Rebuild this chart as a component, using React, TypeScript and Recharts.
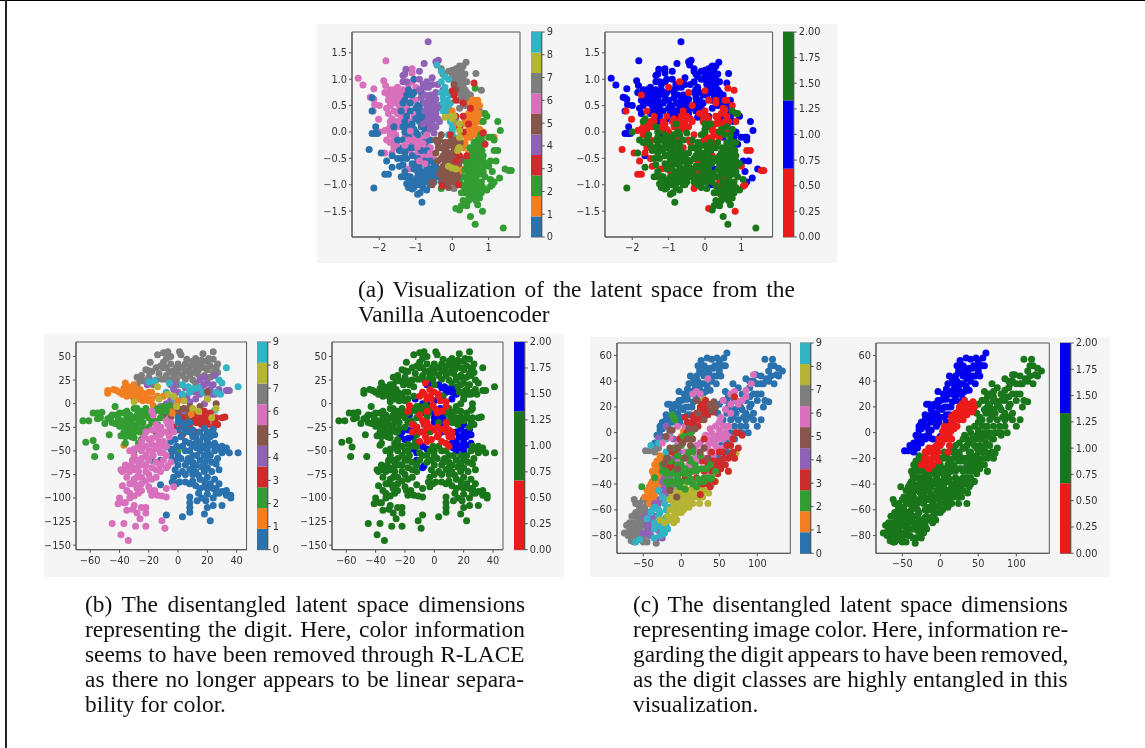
import { ScatterChart, Scatter, XAxis, YAxis, ReferenceArea, BarChart, Bar } from "recharts"

// colour class of a point in the right hand plots
const R = 0, B = 1, G = 2
type Pt = [number, number, number]

const digitColors = ["#2a72ad", "#f27e22", "#339c33", "#cc2c2c", "#8f62b8", "#87564b", "#d970bc", "#7e7e7e", "#b5b434", "#32b4c4"]
const classColors = ["#ed1a1a", "#0000ee", "#1a761a"]
const barA = [classColors[R], classColors[B], classColors[G]]
const barBC = [classColors[R], classColors[G], classColors[B]]
const digitTicks = [0, 1, 2, 3, 4, 5, 6, 7, 8, 9]
const classTicks = [0, 0.25, 0.5, 0.75, 1, 1.25, 1.5, 1.75, 2]

// (a) vanilla autoencoder
const a0: Pt[] = [[-2.2,.65,B],[-2.2,.4,B],[-2.1,.1,B],[-2.2,-.03,B],[-2.12,-.03,B],[-2.05,-.03,B],[-2.28,-.33,R],[-1.95,-.4,R],[-1.8,-.55,R],[-1.65,-.45,B],[-1.85,-.8,R],[-1.75,-.8,R],[-1.65,-.67,G],[-1.45,-.65,R],[-1.4,-.85,G],[-1.3,-.85,G],[-1.3,-.75,G],[-1.5,-.5,R],[-1.25,-.98,G],[-1.2,-1.05,G],[-1.1,-1.08,G],[-2.15,-1.06,G],[-.95,-1.18,G],[-.88,-1.15,G],[-.83,-1.33,G],[-.7,-1.1,G],[-.75,-.95,G],[-.85,-.9,G],[-1,-.9,G],[-1.1,-.95,G],[-.95,-.75,R],[-.8,-.8,G],[-.65,-.8,G],[-.5,-.75,G],[-.4,-.7,G],[-.35,-.85,G],[-.55,-.9,G],[-.7,-.65,G],[-.85,-.6,G],[-.95,-.5,G],[-1.05,-.7,G],[-.6,-.55,G],[-.5,-.6,G],[-1.3,.2,B],[-1.4,.4,B],[-1.3,.6,B],[-1.1,.7,B],[-1.05,1,B],[-1.2,.8,B],[-.9,.45,B],[-.8,.3,B],[-.9,.2,R],[-.7,.1,R],[-1.05,.05,R],[-1.2,-.05,B],[-1.35,-.15,G],[-1.5,-.15,R],[-.95,-.05,R],[-.75,-.2,G],[-1.2,-.3,G],[-1.15,.4,B],[-.8,.55,B],[-1.6,.1,R],[-1.1,-.45,G],[-1.25,-.5,G],[-.85,-.35,G],[-1.05,-1.05,G],[-.75,-.75,G],[-1.1,-.6,G],[-1,-.6,G],[-.9,-.7,G],[-.75,-.55,G],[-.6,-.7,G],[-.45,-.85,G],[-.6,-1,G],[-.9,-1,G],[-1,-1,G],[-1.15,-.85,G],[-1.2,-.95,G],[-.7,-.88,G],[-.5,-.95,G],[-.95,-.85,G],[-1.25,.3,B],[-1.2,.1,R],[-1.3,0,G],[-1.1,.15,R],[-1,.25,B],[-.85,.1,R],[-.75,0,G],[-.95,.5,B],[-.85,.75,B],[-1.05,.75,B],[-1.25,.7,B],[-.9,.35,B],[-1.35,.1,G],[-1.45,-.35,G],[-1.3,-.4,G],[-1.1,-.3,G],[-.7,-.35,G],[-.6,-.15,G],[-1,0,R],[-1.35,-.3,G],[-1.4,-.5,G],[-1.35,-.62,G],[-1.2,-.85,G],[-.85,-.82,G],[-.95,-.95,G],[-.65,-.95,G],[-.8,-1.05,G],[-.6,-.85,G],[-.45,-.65,G],[-1.15,.55,B],[-1.35,.55,B],[-1,.45,B],[-.85,.25,R],[-1.15,-.15,R]]
const a6: Pt[] = [[-2.58,1.02,B],[-2.45,.89,B],[-1.82,1.35,B],[-2.15,.82,B],[-1.88,.97,B],[-1.83,.88,B],[-2.25,.66,B],[-2.15,.62,B],[-2.13,.52,B],[-2.17,.4,R],[-2,.5,B],[-2.02,.24,R],[-1.85,.03,R],[-1.7,.2,G],[-2,0,G],[-1.6,.8,B],[-1.5,.75,B],[-1.4,.7,B],[-1.3,.75,B],[-1.75,.7,R],[-1.65,.6,B],[-1.55,.55,B],[-1.45,.5,B],[-1.6,.4,R],[-1.5,.35,B],[-1.4,.3,R],[-1.65,.25,G],[-1.55,.15,R],[-1.45,.1,R],[-1.75,.05,R],[-1.7,-.05,R],[-1.6,-.15,G],[-1.5,-.25,G],[-1.8,-.15,G],[-1.6,-.3,R],[-1.85,-.4,G],[-1.3,.45,B],[-1.2,.55,B],[-1.1,.6,B],[-1.2,.9,B],[-1.1,1.2,B],[-1.1,1.12,B],[-1.1,.95,B],[-1,.85,R],[-1,.6,B],[-1.15,.2,R],[-1.05,.3,R],[-.95,.35,B],[-1,-.1,G],[-.9,-.15,G],[-.8,-.1,R],[-1.1,-.2,G],[-1,-.3,G],[-.9,-.3,G],[-.8,-.35,G],[-.7,-.25,G],[-.6,-.3,R],[-1.15,-.35,G],[-1.05,-.45,G],[-.55,-.5,G],[-.5,-.52,G],[-1.2,-.7,R],[-.85,-.9,R],[-.7,-.45,G],[-1.7,.8,B],[-1.5,.85,B],[-1.35,.8,B],[-1.7,.5,B],[-1.35,.6,B],[-1.55,.65,B],[-1.75,.35,B],[-1.45,.4,B],[-1.3,.35,B],[-1.6,.05,R],[-1.4,.2,R],[-1.7,-.2,G],[-1.55,-.05,G],[-1.3,-.1,G],[-1.65,-.4,R],[-.95,-.2,G],[-.85,-.05,G],[-.75,-.45,G],[-.65,-.4,G],[-.85,-.45,G],[-1.1,-.05,G],[-.7,-.1,R],[-.95,-.4,G],[-1.8,.45,B],[-1.85,.75,B],[-1.75,.6,B],[-1.6,.7,B],[-1.4,.6,B],[-1.5,.2,R],[-1.55,-.2,G],[-1.3,.15,B],[-1.25,.5,B],[-1.7,.1,R]]
const a6top: Pt[] = [[-.9,-.55,G],[-.7,-.05,G],[-.6,-.4,G],[-.75,-.6,G],[-1.05,-.15,G],[-1.2,-.15,G],[-.95,-.28,G],[-.8,-.22,G],[-1.15,.02,R],[-1.3,-.25,G]]
const a4: Pt[] = [[-.66,1.71,B],[-.45,1.33,B],[-.38,1.36,B],[-.77,1.3,B],[-1.27,1.19,B],[-1.3,1.1,B],[-1.35,1.07,B],[-.9,1.15,B],[-.9,1,B],[-.7,.95,R],[-.55,1.03,B],[-.55,.9,B],[-.75,.85,B],[-1.35,.95,B],[-1.25,.95,B],[-.25,.8,B],[-.45,.75,R],[-.6,.7,B],[-.75,.7,B],[-.5,.55,B],[-.6,.4,R],[-.75,.4,B],[-.45,.35,B],[-.55,.2,R],[-.7,.2,R],[-.45,.1,R],[-.6,.05,R],[-.85,.65,B],[-.9,.8,B],[-.35,.5,R],[-.4,.25,R],[-.5,-.02,G],[-.65,.6,B],[-.75,.55,B],[-.65,.3,R],[-.55,.5,B],[-.5,.7,B],[-.65,.85,B],[-.4,.45,B],[-.5,.3,R],[-.35,.2,R],[-.6,.1,R],[-.8,.9,B],[-.4,.9,B],[-.55,.62,B],[-.8,.15,G],[-.5,.4,B],[-.45,.62,B],[-.7,.5,B]]
const a9: Pt[] = [[-.42,1.27,B],[-.3,1.15,B],[-.2,1.05,B],[-.1,1,B],[-.3,.95,B],[-.2,.85,B],[-.3,.75,B],[-.25,.65,B],[-.15,.6,B],[-.2,.5,B],[-.05,.7,B],[-.1,.45,B],[-.25,.4,B],[0,.05,G],[-.05,.2,R],[.05,-.1,R],[-.1,-.05,G],[0,.15,G],[-.2,-.3,B],[.1,.25,R],[-.15,.75,B],[-.25,.55,B],[-.05,.55,B],[-.15,.35,R],[0,0,G],[.05,.1,G]]
const a7: Pt[] = [[.38,1.32,B],[.65,1.11,B],[.8,.79,R],[.3,1.25,B],[.2,1.25,B],[.1,1.2,B],[0,1.17,B],[-.3,1.2,B],[-.25,1.1,B],[.05,1.05,B],[.15,1.1,B],[.25,1.1,B],[.3,1,B],[.15,.95,B],[.25,.9,B],[.35,.8,B],[.2,.8,B],[.3,.7,B],[.4,.75,B],[.5,.7,B],[.2,.6,B],[.45,.55,B],[.35,.5,B],[.75,.4,G],[.85,.35,G],[.2,.45,B],[.05,-1.07,G],[.05,.95,B],[.1,.85,B],[.4,.95,B],[.3,.6,R],[.1,1.1,B],[.2,1,B],[.3,.85,B],[.15,.75,B],[.1,.95,B],[.25,.65,B],[.4,.62,B],[0,1.1,B],[.35,1.1,B],[.25,1.2,B],[-.1,1.15,B],[.12,.88,B]]
const a2: Pt[] = [[1.4,-1.82,G],[.63,-1.75,G],[.5,-1.6,G],[.83,-1.5,R],[.2,-1.48,G],[.1,-1.45,R],[.25,-1.4,G],[.4,-1.4,G],[.3,-1.3,G],[.45,-1.3,G],[.55,-1.25,G],[.7,-1.38,G],[.75,-1.25,G],[.6,-1.15,G],[.8,-1.15,G],[.95,-1.1,G],[.35,-1.15,R],[.25,-1.15,G],[.5,-1.05,G],[.4,-.95,R],[.55,-.95,G],[.7,-.95,G],[.3,-.85,G],[.45,-.8,G],[.6,-.8,G],[.75,-.8,G],[.85,-.75,G],[.4,-.65,G],[.55,-.65,G],[.7,-.65,G],[.85,-.55,G],[.5,-.5,G],[.65,-.5,G],[.8,-.45,G],[.6,-.35,G],[.75,-.3,G],[.85,-.2,G],[.7,-.15,G],[.8,-.1,B],[1.05,-.55,B],[1,-.65,R],[1.1,-.75,B],[1.2,-.55,B],[1.15,-.35,R],[1.25,-.35,R],[1.05,-.9,G],[1.1,-1,R],[1.05,-1.03,R],[1.15,-.95,B],[1.3,-.87,B],[1.45,-.7,B],[1.55,-.73,R],[1.62,-.73,R],[1.25,.2,B],[1.32,.03,B],[.9,.35,G],[.95,.3,B],[.85,.2,R],[1,-.1,B],[1.1,-.1,B],[1.15,-.15,B],[.63,.83,R],[.78,-.05,B],[-.3,-1.07,R],[.45,-1.15,G],[.65,-1.3,G],[.35,-.55,G],[.6,-1,G],[.5,-.85,R],[.35,-1.05,G],[.5,-.95,G],[.65,-.88,G],[.8,-.95,G],[.45,-.72,G],[.6,-.72,G],[.72,-.72,G],[.85,-.65,G],[.5,-.58,G],[.62,-.58,G],[.75,-.55,G],[.55,-.42,G],[.68,-.42,G],[.82,-.35,G],[.65,-.25,G],[.75,-.18,G],[.45,-1.2,G],[.3,-1.02,G],[.65,-1.2,G],[.9,-.85,G],[.95,-.6,G],[.4,-.5,G],[.55,-1.1,G],[.7,-1.05,G],[.85,-1.05,G],[.2,-.95,G],[.4,-1.1,G],[.75,-1.1,G],[.35,-.72,G],[.4,-.85,G],[.65,-.65,G],[.8,-.62,G],[.55,-.32,G],[.72,-.38,G],[.85,-.45,G],[.48,-.3,G],[.6,-.2,G]]
const a1: Pt[] = [[.7,.6,B],[.75,.5,R],[.65,.5,B],[.55,.6,R],[.45,.35,R],[.5,.25,B],[.6,.3,R],[.7,.25,B],[.8,.2,B],[.5,.1,R],[.6,.1,G],[.75,.05,G],[.85,0,B],[.4,0,G],[.5,-.1,B],[.35,-.2,G],[.3,-.3,G],[.45,-.4,G],[.25,-.05,R],[1.15,-.1,B],[.25,-.7,B],[.2,-.78,G],[.3,.15,R],[0,.4,R],[.05,.3,R],[.15,.15,G],[.6,.6,R],[.55,.42,R],[.65,.4,B],[.75,.35,B],[.55,.2,R],[.65,.18,B],[.45,.05,G],[.6,0,R],[.7,-.05,G],[.55,-.05,G],[.4,-.1,R],[.35,.25,R],[.65,.2,R],[.55,.12,R],[.45,.22,B],[.6,.45,B],[.5,.55,B]]
const a3: Pt[] = [[.6,.93,B],[0,.78,R],[.05,.7,B],[.1,.6,R],[.3,.55,R],[.5,.45,R],[.3,.3,R],[.45,.15,R],[.2,.1,R],[.3,0,R],[.9,-.23,B],[.85,-.02,B],[.4,-.45,G],[.2,-.45,R],[.15,-.4,B],[.1,-.55,G],[-.28,-1.03,R],[.17,-1,B],[-.05,-.05,R],[.1,.3,B]]
const a5: Pt[] = [[-.35,-.15,G],[-.4,-.2,R],[-.3,-.05,R],[-.2,-.2,G],[-.1,-.2,R],[0,-.25,G],[-.1,-.4,G],[-.3,-.5,G],[-.2,-.55,R],[-.15,-.65,G],[-.3,-.7,G],[-.2,-.75,R],[-.05,-.6,G],[0,-.5,G],[-.25,-.85,G],[-.15,-.9,G],[-.05,-.85,G],[-.3,-.95,G],[-.2,-1,G],[-.1,-1.05,G],[-.55,-.95,G],[-.55,-1,G],[-.1,-.8,G],[.05,.9,B],[.1,.8,B],[-.2,-.35,G],[-.25,-.65,G],[-.1,-.7,G],[-.2,-.9,G],[-.05,-.95,G],[-.3,-.3,G],[-.12,-.5,G],[-.25,-.45,G],[-.35,-.8,G],[0,-.75,G],[-.15,-.28,G],[.05,-.55,G],[.1,-.9,G],[.12,-.8,G],[.05,-.95,G],[0,-.9,G],[.1,-.65,G],[.18,-.6,G],[.15,-.85,G],[.02,-.4,G],[.1,-.42,G],[.05,-.3,G],[-.02,-.15,R],[.1,-.15,R],[.15,-.2,G],[.2,-.55,G],[.25,-.5,G],[.22,-.2,R],[-.45,-.4,G],[-.4,-.55,G],[-.38,-.3,G],[-.45,-.15,R]]
const a8: Pt[] = [[-.2,.28,B],[-.05,.3,R],[0,.25,R],[.2,.15,R],[.2,.03,R],[.18,-.3,G],[.15,-.35,G],[.2,-.3,R],[-.1,-.65,G],[0,-.68,G],[.1,-.7,G],[.05,.3,R],[.2,-.1,R]]

// (b) digit dimensions
const b7: Pt[] = [[-14,52,G],[-10,54,G],[-7,55,G],[-5,50,G],[-8,48,G],[1,55,G],[2,52,G],[17,53,G],[24,55,G],[-19,44,G],[12,48,G],[15,42,G],[20,45,G],[22,40,G],[27,42,G],[-8,38,G],[-3,35,G],[3,38,G],[8,40,G],[12,38,G],[18,38,G],[25,35,G],[-13,32,G],[-8,30,G],[-3,30,G],[3,30,G],[8,30,G],[13,32,G],[18,30,G],[-25,30,G],[-20,28,G],[-15,25,G],[-28,20,G],[-5,25,G],[10,25,G],[22,28,G],[5,35,G],[-28,28,G],[-10,38,G],[0,42,G],[16,46,G],[24,47,G],[-18,34,G],[-12,40,G],[-5,42,G],[5,42,G],[10,45,G],[7,34,G],[14,36,G],[20,36,G],[24,32,G],[-1,38,G],[-6,34,G],[-11,26,G],[-20,35,G],[-23,24,G],[-17,20,G],[-1,26,G],[5,26,G],[15,28,G],[27,33,G],[21,48,G],[17,45,G],[10,33,G],[0,33,G],[-15,38,G],[-22,36,G],[-10,44,G],[6,47,G],[12,42,G],[26,38,G],[-8,26,G],[0,20,G],[12,22,G],[-26,24,G]]
const b4: Pt[] = [[-21,20,G],[-18,24,G],[-5,20,B],[5,17,B],[10,15,B],[15,25,G],[18,28,G],[20,22,G],[22,15,G],[20,10,G],[15,10,B],[25,10,G],[28,15,G],[33,14,G],[35,14,G],[20,5,G],[18,0,G],[12,5,B],[3,8,R],[-3,15,R],[25,30,G],[18,20,G],[-5,5,R],[-8,0,B],[-12,-3,G],[-4,-2,B],[2,-10,R],[5,-8,R],[8,2,R],[6,8,G],[0,12,R],[-3,20,B],[12,12,B],[16,18,G],[24,20,G],[23,10,G]]
const b9: Pt[] = [[33,38,G],[41,18,G],[30,22,G],[28,25,G],[29,10,G],[26,12,G],[25,-7,G],[-20,23,G],[-6,22,R],[3,20,B],[7,18,B],[11,16,B],[14,17,B],[17,12,G],[8,12,B],[3,10,R],[-2,5,R],[-8,12,R],[-16,24,G]]
const b8: Pt[] = [[-14,18,G],[-30,2,G],[-13,5,B],[-7,10,R],[-3,8,R],[-1,-3,G],[23,-15,G],[10,-5,G],[14,-8,G],[20,5,G],[26,-5,G],[4,3,R]]
const b1: Pt[] = [[-48,14,G],[-48,11,G],[-44,15,G],[-40,12,G],[-37,16,G],[-36,22,G],[-34,18,G],[-36,13,G],[-33,9,G],[-30,15,G],[-27,8,G],[-24,11,G],[-20,12,G],[-18,5,G],[-24,3,G],[-27,5,G],[-17,-2,R],[-14,8,G],[-10,8,R],[-5,-8,R],[-7,-5,B],[0,3,B],[-1,-2,R],[9,-11,G],[-18,12,G],[-37,-44,G],[-4,-10,G],[-42,14,G],[-38,10,G],[-33,14,G],[-30,9,G],[-28,13,G],[-25,7,G],[-22,8,G],[-20,3,G],[-30,20,G],[-35,8,G],[-26,15,G]]
const b2: Pt[] = [[-65,-18,G],[-61,-18,G],[-58,-10,G],[-55,-10,G],[-52,-9,G],[-53,-15,G],[-50,-21,G],[-46,-14,G],[-43,-21,G],[-39,-18,G],[-35,-15,G],[-43,-3,G],[-47,-33,G],[-63,-41,G],[-58,-39,G],[-56,-46,G],[-57,-56,G],[-46,-56,G],[-39,-34,G],[-37,-30,G],[-36,-42,G],[-34,-25,G],[-32,-35,G],[-30,-15,G],[-28,-22,G],[-26,-30,G],[-24,-13,G],[-20,-25,G],[-18,-10,G],[-14,-5,G],[-10,-3,G],[-8,-8,G],[-12,-15,G],[-16,-18,G],[-22,-5,G],[-30,-5,G],[-35,-8,G],[-25,-8,G],[-30,-30,G],[-27,-42,G],[-30,-50,G],[-31,-60,G],[-20,-15,G],[-40,-10,G],[0,-50,G],[-45,-12,G],[-42,-12,G],[-28,-12,G],[-14,-22,G],[-25,-38,G],[-38,-24,G],[-32,-18,G],[-55,-16,G],[-48,-16,G],[-45,-20,G],[-41,-15,G],[-37,-10,G],[-33,-20,G],[-30,-24,G],[-27,-17,G],[-24,-20,G],[-22,-11,G],[-20,-9,G],[-16,-8,G],[-12,-8,G],[-36,-20,G],[-40,-24,G],[-33,-30,G],[-30,-36,G],[-36,-35,G],[-28,-28,G],[-24,-26,G],[-18,-20,G],[-33,-12,G],[-28,-5,G],[-25,-14,G],[-6,-2,G]]
const b3: Pt[] = [[-25,-30,G],[12,-15,G],[10,-8,G],[15,-15,G],[20,-18,G],[25,-20,G],[30,-15,G],[22,-10,G],[18,-8,G],[26,-15,G],[32,-14,G],[3,-15,B],[-3,-25,R],[3,-33,R],[8,-25,R],[12,-20,G],[24,-25,G],[20,-22,B],[16,-22,G],[14,-20,G],[18,-14,G],[22,-15,G],[27,-22,G],[17,-18,G],[10,-18,G]]
const b5: Pt[] = [[-30,5,G],[-3,-5,G],[1,-6,R],[4,-5,B],[8,-8,G],[12,-10,G],[15,-3,G],[-9,-10,B],[26,0,G],[20,13,G],[-8,-5,B],[5,-20,B],[2,-25,R],[-10,-12,R],[-5,-14,G],[0,-10,B],[6,-14,B],[8,-3,R],[-12,-25,B],[-7,-30,R],[12,-30,R],[5,-27,R],[-15,-30,R]]
const b0: Pt[] = [[0,-15,B],[3,-20,G],[8,-30,R],[5,-40,R],[10,-35,R],[15,-30,B],[20,-30,B],[25,-33,B],[20,-40,B],[15,-40,B],[10,-45,R],[5,-50,G],[0,-55,G],[-5,-55,G],[10,-55,G],[15,-50,B],[20,-50,B],[25,-50,G],[28,-48,G],[30,-45,G],[33,-47,G],[35,-52,G],[41,-52,G],[27,-58,G],[26,-64,G],[20,-60,G],[15,-60,G],[10,-62,G],[5,-65,G],[0,-65,G],[-2,-70,G],[8,-70,G],[12,-72,G],[18,-72,G],[20,-78,G],[22,-85,G],[15,-80,G],[10,-82,G],[8,-85,G],[5,-83,G],[1,-83,G],[-1,-85,G],[-4,-83,G],[-12,-86,G],[20,-90,G],[26,-90,G],[30,-93,G],[33,-92,G],[36,-97,G],[36,-100,G],[26,-95,G],[30,-108,G],[24,-108,G],[19,-103,G],[13,-103,G],[8,-99,G],[8,-105,G],[8,-110,G],[8,-115,G],[20,-110,G],[18,-117,G],[22,-124,G],[3,-120,G],[-8,-118,G],[28,-85,G],[15,-90,G],[-8,-45,B],[-12,-60,B],[-23,-65,G],[-18,-60,G],[-5,-40,R],[0,-28,R],[5,-30,B],[18,-45,B],[22,-35,B],[13,-47,B],[18,-26,B],[24,-27,B],[5,-25,B],[8,-20,R],[10,-28,R],[12,-35,R],[8,-42,R],[3,-45,G],[8,-50,G],[13,-55,G],[18,-55,G],[22,-55,G],[12,-42,B],[25,-42,B],[20,-35,B],[17,-35,B],[22,-44,B],[16,-47,B],[22,-30,B],[2,-58,G],[7,-58,G],[-2,-60,G],[3,-72,G],[6,-62,G],[12,-65,G],[16,-67,G],[20,-68,G],[14,-76,G],[18,-82,G],[12,-87,G],[18,-88,G],[25,-80,G],[14,-95,G],[20,-96,G],[28,-95,G],[33,-97,G],[-3,-50,G],[-5,-48,B],[-2,-38,R],[2,-35,R],[0,-20,B],[-1,-45,G],[10,-68,G],[5,-75,G],[0,-75,G],[10,-75,G],[23,-62,G],[23,-72,G],[28,-70,G],[18,-63,G],[-3,-78,G],[30,-52,G],[26,-45,G],[31,-50,G],[16,-100,G],[24,-100,G],[24,-90,G]]
const b6: Pt[] = [[-45,-127,G],[-37,-127,G],[-39,-139,G],[-34,-145,G],[-29,-130,G],[-22,-130,G],[-11,-124,G],[-9,-132,G],[-22,-116,G],[-26,-122,G],[-28,-116,G],[-31,-112,G],[-35,-113,G],[-37,-105,G],[-41,-106,G],[-40,-100,G],[-33,-100,G],[-38,-87,G],[-35,-92,G],[-30,-98,G],[-28,-90,G],[-25,-92,G],[-19,-92,G],[-18,-97,G],[-14,-97,G],[-11,-98,G],[-8,-90,G],[-8,-99,G],[-3,-88,G],[-39,-70,G],[-38,-72,G],[-36,-65,G],[-31,-60,G],[-30,-70,G],[-35,-78,G],[-30,-80,G],[-25,-78,G],[-20,-75,G],[-15,-70,G],[-8,-68,B],[-5,-62,G],[-7,-66,B],[-28,-60,G],[-25,-65,G],[-20,-60,G],[-15,-62,G],[-10,-60,G],[-25,-50,G],[-20,-50,G],[-15,-48,B],[-12,-52,B],[-30,-48,G],[-33,-50,G],[-25,-40,G],[-20,-38,B],[-15,-35,B],[-10,-40,R],[-18,-28,B],[-12,-25,R],[-8,-30,B],[-5,-25,R],[-8,-18,R],[-5,-20,R],[-3,-30,G],[-22,-30,B],[-20,-58,G],[-27,-72,G],[-33,-85,G],[-15,-45,G],[-25,-85,G],[-18,-8,R],[-17,-12,B],[-28,-68,G],[-33,-72,G],[-28,-78,G],[-22,-72,G],[-22,-82,G],[-18,-68,G],[-12,-65,G],[-32,-65,G],[-25,-58,G],[-22,-55,G],[-17,-55,G],[-12,-45,G],[-27,-46,G],[-22,-45,G],[-18,-43,G],[-23,-35,B],[-13,-40,G],[-8,-45,B],[-10,-30,R],[-14,-28,B],[-7,-22,R],[-15,-22,R],[-6,-35,R],[-12,-33,G],[-33,-95,G],[-27,-95,G],[-36,-105,G],[-30,-108,G],[-22,-110,G],[-25,-110,G],[-32,-85,G],[-29,-86,G],[-16,-92,G],[-20,-88,G],[-22,-65,G],[-10,-52,G],[-18,-37,B],[-35,-70,G],[-27,-62,G],[-18,-80,G],[-15,-78,G],[-12,-72,G],[-30,-55,G],[-25,-45,G],[-18,-50,G],[-8,-55,G]]

// (c) colour dimensions
const c0: Pt[] = [[60,62,B],[56,58,B],[52,52,B],[47,58,B],[40,57,B],[34,58,B],[26,56,B],[50,48,B],[44,52,B],[38,50,B],[32,50,B],[24,48,B],[42,44,B],[36,42,B],[30,44,B],[20,44,B],[12,44,B],[10,38,B],[18,38,B],[26,38,B],[34,36,B],[14,32,B],[8,34,B],[4,30,B],[-3,32,B],[0,25,B],[8,26,B],[-3,25,B],[-8,22,B],[-15,22,B],[-18,22,B],[-25,8,B],[-28,5,B],[-22,8,B],[-15,12,B],[-10,20,B],[-5,15,B],[2,18,B],[10,20,B],[16,24,B],[28,30,B],[22,32,B],[55,52,B],[48,52,B],[42,50,B],[36,46,B],[28,46,B],[22,40,B],[16,42,B],[30,38,B],[24,34,B],[18,34,B],[10,30,B],[4,26,B],[-2,20,B],[6,20,B],[-12,18,B],[-20,14,B],[-25,3,B],[-18,5,B],[-10,10,B],[-2,8,B],[12,14,B],[-32,-2,B],[-26,-3,B],[-6,22,B],[40,40,B],[46,44,B],[38,33,B],[-35,-8,B],[-28,2,B],[-20,10,B],[-12,8,B],[-6,12,B],[0,12,B],[8,14,B],[14,20,B],[20,28,B],[26,24,B],[32,32,B],[46,38,B],[52,44,B],[58,52,B],[50,56,B],[30,52,B],[22,52,B],[133,48,G],[122,52,G],[120,57,G],[110,57,G],[115,48,G],[125,45,G],[105,44,G],[98,45,G],[95,40,G],[122,38,G],[100,38,G],[90,35,G],[80,30,G],[90,28,G],[100,25,G],[110,25,G],[115,24,G],[68,38,G],[85,42,G],[75,35,G],[70,25,G],[60,25,G],[55,25,G],[50,22,G],[48,15,G],[60,15,G],[70,18,G],[80,18,G],[85,15,G],[95,10,G],[105,10,G],[100,5,G],[85,5,G],[75,10,G],[65,10,G],[55,10,G],[95,15,G],[88,0,G],[80,0,G],[70,-5,G],[108,38,G],[92,22,G],[62,20,G],[112,42,G],[128,50,G],[118,52,G],[105,38,G],[95,30,G],[85,25,G],[75,22,G],[85,10,G],[90,20,G],[78,5,G],[70,5,G],[65,0,G],[60,-8,G],[52,-10,G],[48,-18,G],[42,-20,G],[60,-15,G],[68,12,G],[72,15,G],[78,20,G],[82,12,G],[90,12,G],[62,28,G],[58,32,G],[90,40,G],[100,30,G],[108,20,G],[105,30,G],[115,40,G],[118,44,G],[128,44,G]]
const c6: Pt[] = [[95,45,G],[92,38,G],[85,33,G],[70,32,G],[65,30,G],[72,25,G],[80,25,G],[55,25,G],[65,15,G],[60,5,G],[50,2,G],[45,-5,G],[40,0,G],[55,-5,G],[35,-10,G],[30,-20,G],[18,-20,G],[15,-25,G],[20,-10,G],[25,-28,G],[45,-10,G],[55,-2,G],[20,32,B],[25,30,B],[35,42,B],[15,30,B],[-5,5,B],[-15,-4,B],[-25,-8,B],[-5,-10,R],[5,5,R],[-3,-22,R],[15,10,R],[32,-12,G],[38,-8,G],[25,-22,G],[42,-18,G],[48,-5,G],[50,8,G],[58,0,G],[62,-3,G],[75,22,G],[85,28,G],[35,-30,G],[10,-25,G],[5,-15,G],[20,-15,G],[30,-12,G],[38,-15,G],[48,-12,G],[25,-8,G],[35,-5,G],[42,-5,G],[55,-12,G],[32,-2,G],[38,3,G],[45,5,G],[52,12,G],[58,18,G],[65,22,G],[48,-2,G],[55,5,G],[62,5,G]]
const c3: Pt[] = [[75,0,G],[68,-5,G],[68,-15,G],[62,-20,G],[55,-15,G],[50,-15,G],[45,-25,G],[50,-22,G],[55,-25,G],[65,-18,G],[70,-20,G],[30,-5,G],[40,-15,G],[35,-20,G],[40,-30,G],[52,-28,G],[62,-30,G],[5,-35,G],[15,-30,G],[20,-35,G],[35,-40,G],[25,-48,G],[38,-42,G],[20,15,R],[25,20,R],[15,8,R],[22,5,R],[-10,-25,R],[8,8,B],[5,12,B],[-15,-28,R],[33,18,R],[28,15,R],[42,-28,G],[58,-25,G],[60,-10,G],[48,-32,G],[30,-30,G],[28,-40,G],[44,-38,G],[25,10,R],[20,5,R],[-8,-16,R],[-2,-5,R],[35,22,R],[40,22,R],[-12,-15,R],[7,0,R],[12,5,R],[15,13,R],[25,18,R],[-18,-26,R],[28,-22,G],[35,-25,G],[42,-22,G],[50,-27,G],[56,-20,G],[80,-2,G],[72,0,G],[75,-12,G],[65,-10,G],[70,28,G],[18,10,R],[23,12,R],[30,14,R],[35,14,R],[28,22,R],[32,25,R],[42,16,R]]
const c2: Pt[] = [[-52,-42,G],[-35,-35,G],[-25,-30,G],[-20,-30,G],[-10,-32,G],[-5,-35,G],[0,-38,G],[10,-32,G],[15,-40,G],[25,-38,G],[30,-35,G],[20,-42,G],[35,-35,G],[40,-35,G],[0,-25,G],[10,-15,R],[-10,12,B],[-8,10,B],[-12,14,B],[15,-15,G],[25,-18,G],[38,-25,G],[-5,-25,G],[5,-28,G],[12,-22,G],[20,-28,G],[28,-28,G],[33,-28,G],[45,-30,G],[-2,-42,G],[8,-38,G],[-15,-38,G],[-20,-38,G],[-10,-38,G],[-3,-32,G],[5,-32,G],[12,-30,G],[20,-30,G],[-15,-42,G],[-8,-30,G],[-5,-40,G],[5,-44,G],[12,-36,G],[22,-36,G],[30,-38,G],[38,-36,G],[-20,-32,G],[-12,-32,G],[0,-30,G],[2,-20,G],[8,-18,G],[18,-25,G],[10,-20,G],[15,-12,G],[-14,-22,R],[-5,-18,R],[0,-10,R],[3,-3,R],[10,-2,R],[14,1,R],[-25,-25,R],[-20,-20,R],[-10,-12,R]]
const c1: Pt[] = [[-25,-20,G],[-28,-25,G],[-30,-30,G],[-33,-35,G],[-35,-40,G],[-38,-45,G],[-28,-35,G],[-30,-42,G],[-35,-50,G],[-40,-55,G],[-25,-28,G],[-40,-48,G],[-32,-55,G],[-42,-42,G],[-28,-18,G],[-32,-26,G],[-36,-33,G],[0,-3,B],[5,-2,R],[-3,-5,B],[3,1,R],[-2,-10,R],[-35,-30,G],[-38,-38,G],[-32,-45,G],[-28,-30,G],[-38,-52,G],[-43,-50,G],[-26,-24,G],[-30,-22,G],[-33,-42,G],[-42,-55,G],[-28,-40,G],[-28,-46,G],[-35,-45,G],[-22,-48,G],[-45,-45,G],[-48,-50,G],[-40,-40,G],[-38,-30,G],[-32,-22,G],[-35,-25,G]]
const c4: Pt[] = [[-20,-25,R],[-22,-35,G],[-15,-35,G],[-25,-45,G],[-20,-50,G],[-30,-55,G],[-40,-65,G],[-45,-72,G],[-50,-78,G],[-20,-45,G],[-15,-45,G],[-10,-20,R],[-10,-30,G],[-5,-30,G],[-15,-15,R],[-20,5,B],[-15,0,B],[-10,-5,B],[-30,-4,B],[-3,-15,R],[12,-3,R],[-35,-55,G],[-28,-52,G],[-35,-65,G],[-42,-70,G],[-38,-75,G],[-15,-28,G],[-22,-42,G],[-18,-38,G],[-12,-42,G],[-25,-38,G],[-8,-38,G],[-45,-78,G],[-40,-80,G],[-32,-82,G],[-25,-82,G],[-38,-68,G],[-30,-76,G],[-42,-62,G],[-48,-66,G]]
const c9: Pt[] = [[-60,-85,G],[-55,-83,G],[-45,-67,G],[-40,-62,G],[-35,-58,G],[-28,-62,G],[-25,-50,G],[-30,-45,G],[-20,-60,G],[-30,-72,G],[-25,-75,G],[-20,-72,G],[-18,-75,G],[-15,-58,G],[-20,-15,R],[-5,-10,R],[-15,-3,B],[-30,-60,G],[-40,-10,B],[-30,-8,B],[-20,-5,B],[-35,-70,G],[-30,-65,G],[-25,-68,G],[-35,-75,G],[-28,-80,G],[-22,-78,G],[-38,-60,G],[-22,-55,G],[-18,-52,G],[-24,-72,G],[-18,-60,G],[-12,-58,G],[-20,-66,G],[-36,-82,G]]
const c7: Pt[] = [[-75,-78,G],[-72,-72,G],[-70,-80,G],[-65,-75,G],[-68,-70,G],[-65,-65,G],[-60,-62,G],[-60,-72,G],[-55,-68,G],[-58,-80,G],[-52,-78,G],[-48,-80,G],[-50,-72,G],[-62,-85,G],[-55,-58,G],[-50,-52,G],[-62,-52,G],[-48,-60,G],[-45,-55,G],[-52,-62,G],[-45,-75,G],[-33,-86,G],[-70,-78,G],[-60,-55,G],[-47,-14,B],[-42,-14,B],[-35,-15,B],[-38,-12,B],[-30,-12,B],[-68,-75,G],[-63,-70,G],[-58,-75,G],[-55,-75,G],[-55,-62,G],[-50,-65,G],[-45,-62,G],[-65,-80,G],[-48,-72,G],[-42,-80,G],[-60,-80,G],[-50,-85,G],[-55,-55,G],[-42,-70,G],[-58,-66,G],[-52,-70,G],[-62,-78,G],[-72,-78,G],[-66,-84,G],[-56,-80,G],[-48,-58,G],[-42,-52,G],[-52,-82,G],[-45,-85,G]]
const c8: Pt[] = [[-15,-60,G],[-10,-55,G],[-5,-50,G],[0,-45,G],[5,-40,G],[10,-45,G],[15,-48,G],[20,-45,G],[-15,-52,G],[-10,-65,G],[-5,-62,G],[0,-55,G],[5,-55,G],[-10,-70,G],[-22,-70,G],[35,-55,G],[15,-55,G],[45,-38,G],[40,-40,G],[62,-30,G],[72,-16,G],[-5,-45,G],[5,-50,G],[-28,-68,G],[30,26,B],[10,-38,G],[-12,-48,G],[-8,-60,G],[0,-62,G],[-2,-52,G],[8,-48,G],[12,-52,G],[18,-40,G],[25,-42,G],[30,-45,G],[-18,-65,G],[10,-58,G],[22,-50,G],[28,-50,G],[-6,-68,G],[-8,-52,G],[-3,-57,G],[3,-60,G],[8,-53,G],[13,-44,G],[-12,-60,G],[18,-50,G],[26,-46,G],[32,-40,G],[-15,-68,G],[-1,-48,G],[4,-46,G],[-8,-66,G],[24,-55,G],[36,-47,G]]
const c5: Pt[] = [[-15,-12,R],[-20,-3,B],[-15,2,B],[-12,2,B],[-5,-12,R],[20,25,B],[22,15,R],[30,-12,G],[35,-20,G],[-6,-50,G],[-15,-45,G],[-5,-28,G],[5,-20,G],[25,-15,G],[12,-10,R],[15,-5,R],[2,-8,R],[8,-5,R],[18,3,R],[10,3,R],[30,10,R],[38,22,R],[43,24,R],[45,20,R],[40,17,R],[-22,-24,R],[-18,-20,R]]

const layersA: [number, Pt[]][] = [[6, a6], [0, a0], [6, a6top], [4, a4], [7, a7], [9, a9], [1, a1], [2, a2], [5, a5], [3, a3], [8, a8]]
const layersB: [number, Pt[]][] = [[7, b7], [4, b4], [9, b9], [5, b5], [3, b3], [1, b1], [2, b2], [0, b0], [6, b6], [8, b8]]
const layersC: [number, Pt[]][] = [[0, c0], [7, c7], [1, c1], [4, c4], [9, c9], [8, c8], [6, c6], [3, c3], [2, c2], [5, c5]]

function digitRows(layers: [number, Pt[]][]) {
  return layers.flatMap(([d, pts]) => pts.map((p) => ({ x: p[0], y: p[1], k: d })))
}

// right hand plots: first class in order is drawn at the bottom
function classRows(layers: [number, Pt[]][], order: number[]) {
  const all = layers.flatMap(([, pts]) => pts)
  return order.flatMap((c) => all.filter((p) => p[2] === c).map((p) => ({ x: p[0], y: p[1], k: c })))
}

const axisGray = "#555"
const tickStyle = { fontSize: 9.8, fontFamily: "DejaVu Sans", fill: "#333" }
const minus = (s: string) => s.replace("-", "\u2212")

type Box = { left: number; top: number; width: number; height: number }

function Plot({ box, rows, colors, xDomain, yDomain, xTicks, yTicks, yFixed }: any) {
  const gutter = 40
  const under = 24
  const pad = 6
  return (
    <div style={{ position: "absolute", left: box.left - gutter, top: box.top - pad }}>
      <ScatterChart width={box.width + gutter + pad} height={box.height + pad + under} margin={{ top: pad, right: pad, left: 0, bottom: 0 }}>
        <XAxis type="number" dataKey="x" domain={xDomain} ticks={xTicks} interval={0} height={under} tickSize={3} tickMargin={4} stroke={axisGray} tick={tickStyle} tickFormatter={(v: number) => minus(String(v))} />
        <YAxis type="number" dataKey="y" domain={yDomain} ticks={yTicks} interval={0} width={gutter} tickSize={3} tickMargin={2} stroke={axisGray} tick={tickStyle} tickFormatter={(v: number) => minus(yFixed ? v.toFixed(yFixed) : String(v))} />
        <ReferenceArea x1={xDomain[0]} x2={xDomain[1]} y1={yDomain[0]} y2={yDomain[1]} fill="none" stroke={axisGray} strokeWidth={1} />
        <Scatter data={rows} isAnimationActive={false} shape={(p: any) => <circle cx={p.cx} cy={p.cy} r={3.5} fill={colors[p.payload.k]} />} />
      </ScatterChart>
    </div>
  )
}

function ColorBar({ box, colors, ticks, fixed }: any) {
  const max = ticks[ticks.length - 1]
  const row: Record<string, number | string> = { name: "cb" }
  colors.forEach((_: string, i: number) => { row["s" + i] = max / colors.length })
  const gutter = 34
  const pad = 6
  return (
    <div style={{ position: "absolute", left: box.left, top: box.top - pad }}>
      <BarChart width={box.width + gutter} height={box.height + pad * 2} data={[row]} barCategoryGap={0} margin={{ top: pad, right: 0, left: 0, bottom: pad }}>
        <XAxis dataKey="name" hide />
        <YAxis orientation="right" type="number" domain={[0, max]} ticks={ticks} interval={0} width={gutter} tickSize={3} tickMargin={2} stroke={axisGray} tick={tickStyle} tickFormatter={(v: number) => (fixed ? v.toFixed(fixed) : String(v))} />
        {colors.map((c: string, i: number) => (
          <Bar key={c} dataKey={"s" + i} stackId="cb" fill={c} isAnimationActive={false} />
        ))}
        <ReferenceArea y1={0} y2={max} fill="none" stroke={axisGray} strokeWidth={1} />
      </BarChart>
    </div>
  )
}

const captionA = ["(a) Visualization of the latent space from the", "Vanilla Autoencoder"]
const captionB = ["(b) The disentangled latent space dimensions", "representing the digit. Here, color information", "seems to have been removed through R-LACE", "as there no longer appears to be linear separa-", "bility for color."]
const captionC = ["(c) The disentangled latent space dimensions", "representing image color. Here, information re-", "garding the digit appears to have been removed,", "as the digit classes are highly entangled in this", "visualization."]

// extra px between words, per line, to get the justified look of the paper
const spacingA = [3, 0]
const spacingB = [3.8, 1.6, 0.3, 1.3, 0]
const spacingC = [3, -1.4, -2, 0.1, 0]

function Caption({ left, top, lines, spacing }: { left: number; top: number; lines: string[]; spacing: number[] }) {
  return (
    <div style={{ position: "absolute", left, top, fontFamily: "Liberation Serif", fontSize: 23.4, lineHeight: "25px", color: "#111", whiteSpace: "nowrap" }}>
      {lines.map((l, i) => (
        <div key={l} style={{ wordSpacing: spacing[i] }}>{l}</div>
      ))}
    </div>
  )
}

const xA = [-2.75, 1.86], yA = [-1.99, 1.895]
const xB = [-69.7, 46.8], yB = [-154.8, 65.4]
const xC = [-84.6, 143.4], yC = [-93.8, 69.7]
const ticksXA = [-2, -1, 0, 1], ticksYA = [-1.5, -1, -0.5, 0, 0.5, 1, 1.5]
const ticksXB = [-60, -40, -20, 0, 20, 40], ticksYB = [-150, -125, -100, -75, -50, -25, 0, 25, 50]
const ticksXC = [-50, 0, 50, 100], ticksYC = [-80, -60, -40, -20, 0, 20, 40, 60]

const panelBg = (left: number, top: number, height: number) => (
  <div style={{ position: "absolute", left, top, width: 520, height, background: "#f5f5f5" }} />
)

const boxA1: Box = { left: 352, top: 32, width: 168, height: 205 }
const boxA2: Box = { left: 604.7, top: 32, width: 167.6, height: 205 }
const boxB1: Box = { left: 75.7, top: 342.3, width: 170.6, height: 207.7 }
const boxB2: Box = { left: 332.3, top: 342.3, width: 171, height: 207.7 }
const boxC1: Box = { left: 617, top: 343, width: 173.3, height: 210.3 }
const boxC2: Box = { left: 876, top: 343, width: 173.3, height: 210.3 }
const cb = (left: number, top: number, height: number): Box => ({ left, top, width: 10.7, height })

export default function App() {
  return (
    <div style={{ position: "absolute", left: 0, top: 0, width: 1145, height: 748, background: "#fff", overflow: "hidden" }}>
      <div style={{ position: "absolute", left: 0, top: 0, width: 1145, height: 1, background: "#000" }} />
      <div style={{ position: "absolute", left: 5, top: 0, width: 1.5, height: 748, background: "#222" }} />
      <div style={{ position: "absolute", left: 0, top: 0, width: 1145, height: 748, filter: "blur(0.5px)" }}>
        {panelBg(317, 24, 239)}
        {panelBg(44, 334, 243)}
        {panelBg(590, 337, 240)}
        <Plot box={boxA1} rows={digitRows(layersA)} colors={digitColors} xDomain={xA} yDomain={yA} xTicks={ticksXA} yTicks={ticksYA} yFixed={1} />
        <ColorBar box={cb(531, 32, 205)} colors={digitColors} ticks={digitTicks} />
        <Plot box={boxA2} rows={classRows(layersA, [B, R, G])} colors={classColors} xDomain={xA} yDomain={yA} xTicks={ticksXA} yTicks={ticksYA} yFixed={1} />
        <ColorBar box={cb(783, 32, 205)} colors={barA} ticks={classTicks} fixed={2} />
        <Plot box={boxB1} rows={digitRows(layersB)} colors={digitColors} xDomain={xB} yDomain={yB} xTicks={ticksXB} yTicks={ticksYB} />
        <ColorBar box={cb(257.3, 342.3, 207.7)} colors={digitColors} ticks={digitTicks} />
        <Plot box={boxB2} rows={classRows(layersB, [B, G, R])} colors={classColors} xDomain={xB} yDomain={yB} xTicks={ticksXB} yTicks={ticksYB} />
        <ColorBar box={cb(514.3, 342.3, 207.7)} colors={barBC} ticks={classTicks} fixed={2} />
        <Plot box={boxC1} rows={digitRows(layersC)} colors={digitColors} xDomain={xC} yDomain={yC} xTicks={ticksXC} yTicks={ticksYC} />
        <ColorBar box={cb(800.3, 343, 210.3)} colors={digitColors} ticks={digitTicks} />
        <Plot box={boxC2} rows={classRows(layersC, [G, B, R])} colors={classColors} xDomain={xC} yDomain={yC} xTicks={ticksXC} yTicks={ticksYC} />
        <ColorBar box={cb(1060.3, 343, 210.3)} colors={barBC} ticks={classTicks} fixed={2} />
        <Caption left={358} top={277} lines={captionA} spacing={spacingA} />
        <Caption left={85} top={592} lines={captionB} spacing={spacingB} />
        <Caption left={633} top={592} lines={captionC} spacing={spacingC} />
      </div>
    </div>
  )
}
